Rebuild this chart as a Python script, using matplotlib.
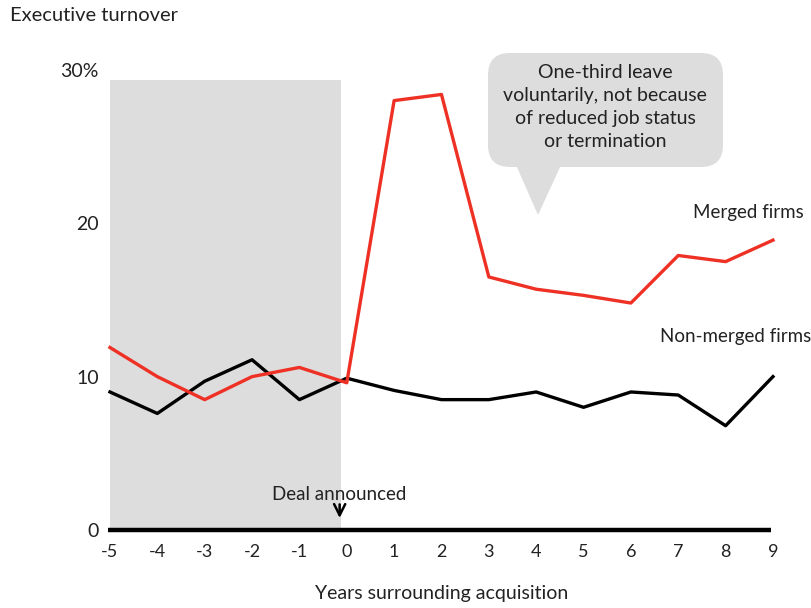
import matplotlib.pyplot as plt
from matplotlib.patches import FancyBboxPatch, Polygon, Rectangle

# ----------------------------------------------------------------------
# Data
# ----------------------------------------------------------------------
years = [-5, -4, -3, -2, -1, 0, 1, 2, 3, 4, 5, 6, 7, 8, 9]
merged = [11.9, 10.0, 8.5, 10.0, 10.6, 9.6, 28.0, 28.4, 16.5, 15.7, 15.3, 14.8, 17.9, 17.5, 18.9]
non_merged = [9.0, 7.6, 9.7, 11.1, 8.5, 9.9, 9.1, 8.5, 8.5, 9.0, 8.0, 9.0, 8.8, 6.8, 10.0]
y_ticks = [0, 10, 20, 30]
y_labels = ["0", "10", "20", "30%"]

RED = "#ee3124"
GREY = "#dddddd"
TXT = "#222222"
plt.rcParams["font.family"] = ["Lato", "DejaVu Sans"]

# ----------------------------------------------------------------------
# Plot
# ----------------------------------------------------------------------
fig = plt.figure(figsize=(8.11, 6.08), dpi=100)
ax = fig.add_axes([0.1356, 0.1283, 0.8175, 0.7567])
ax.set_xlim(-5, 9)
ax.set_ylim(0, 30)

# pre-announcement shading
ax.add_patch(Rectangle((-5, 0), 4.88, 29.35, facecolor=GREY, edgecolor="none", zorder=0))

ax.plot(years, non_merged, color="black", lw=2.4, clip_on=False, zorder=3)
ax.plot(years, merged, color=RED, lw=2.4, clip_on=False, zorder=4)

# baseline
ax.plot([-5.04, 8.95], [0, 0], color="black", lw=3.2, clip_on=False, zorder=5,
        solid_capstyle="butt")

for s in ax.spines.values():
    s.set_visible(False)
ax.set_xticks(years)
ax.set_xticklabels([str(y) for y in years], fontsize=13, color=TXT)
ax.set_yticks(y_ticks)
ax.set_yticklabels(y_labels, fontsize=14, color=TXT)
ax.tick_params(axis="x", length=0, pad=10)
ax.tick_params(axis="y", length=0, pad=8)

# labels
fig.text(0.012, 0.975, "Executive turnover", fontsize=14.5, va="center", ha="left", color=TXT)
ax.set_xlabel("Years surrounding acquisition", fontsize=14, labelpad=18, color=TXT)
ax.text(9.65, 20.7, "Merged firms", fontsize=13.5, ha="right", va="center", color=TXT)
ax.text(9.8, 12.6, "Non-merged firms", fontsize=13.5, ha="right", va="center", color=TXT)
ax.text(-0.15, 2.3, "Deal announced", fontsize=13.5, ha="center", va="center", color=TXT)
ax.annotate("", xy=(-0.15, 0.6), xytext=(-0.15, 1.85),
            arrowprops=dict(arrowstyle="->", lw=1.8, color="black",
                            mutation_scale=20))

# callout bubble drawn on an overlay in pixel units
ov = fig.add_axes([0, 0, 1, 1], facecolor="none")
ov.set_xlim(0, 811)
ov.set_ylim(608, 0)
ov.axis("off")
ov.add_patch(FancyBboxPatch((488, 53), 235, 114,
                            boxstyle="round,pad=0,rounding_size=22",
                            facecolor=GREY, edgecolor="none"))
ov.add_patch(Polygon([[516, 165], [561, 165], [538, 215]], closed=True,
                     facecolor=GREY, edgecolor="none"))
ov.text(605, 107, "One-third leave\nvoluntarily, not because\nof reduced job status\nor termination",
        fontsize=14, ha="center", va="center", linespacing=1.42, color=TXT)

fig.savefig("out.png", dpi=100)
